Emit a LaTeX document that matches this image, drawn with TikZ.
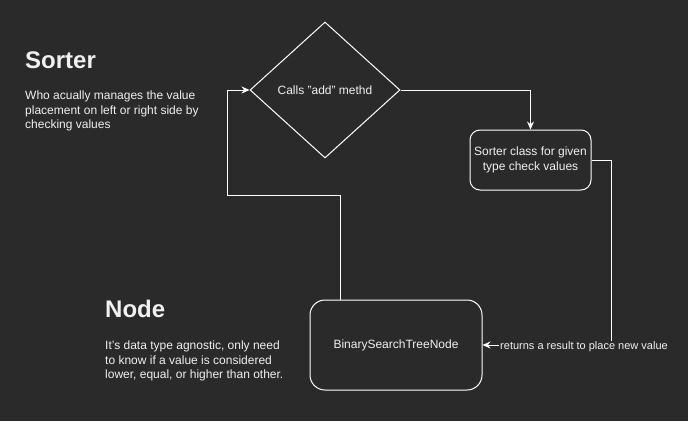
\documentclass[tikz,border=0pt]{standalone}
\usepackage{fontspec}
\setmainfont{Liberation Sans}
\usepackage{tikz}
\usetikzlibrary{arrows.meta,positioning,shapes.geometric}
\definecolor{mybg}{RGB}{42,42,42}
\definecolor{mytext}{RGB}{240,240,240}

\begin{document}
\begin{tikzpicture}[x=1pt, y=-1pt,
  box/.style={
    rectangle, draw=white, line width=1pt,
    rounded corners=10pt,
    font=\fontsize{12}{15}\selectfont, text=mytext, align=center},
  head/.style={anchor=west, inner sep=0pt, text=mytext,
    font=\fontsize{24}{29}\selectfont\bfseries},
  desc/.style={anchor=north west, inner sep=0pt, text=mytext, align=left,
    font=\fontsize{12}{14.5}\selectfont},
  arr/.style={-{Stealth[length=8pt,width=7pt]}, draw=white, line width=1pt}
]
  \fill[mybg] (0,0) rectangle (688,421);
  \useasboundingbox (0,0) rectangle (688,421);

  % left texts
  \node[head] (sorterhead) at (25,60) {Sorter};
  \node[desc] (sorterdesc) at (25,91) {Who acually manages the value\\placement on left or right side by\\checking values};
  \node[head] (nodehead) at (105,309) {Node};
  \node[desc] (nodedesc) at (105,341) {It's data type agnostic, only need\\to know if a value is considered\\lower, equal, or higher than other.};

  % flow
  \node[diamond, draw=white, line width=1pt, inner sep=0pt,
        minimum width=150pt, minimum height=136pt,
        font=\fontsize{12}{15}\selectfont, text=mytext] (calls) at (325,90) {Calls "add" methd};
  \node[box, minimum width=121pt, minimum height=60pt] (sortbox) at (530.5,160) {Sorter class for given\\type check values};
  \node[box, rounded corners=15pt, minimum width=172pt, minimum height=90pt] (bst) at (396,345) {BinarySearchTreeNode};
  \coordinate (bend) at (227,195);

  \draw[arr](calls.east) -| (sortbox.north);
  \draw[arr](sortbox.east) -- ++(20,0) |- (bst.east);
  \draw[arr]([xshift=-56pt]bst.north) |- (bend) |- (calls.west);
  \node[fill=mybg, inner sep=1pt, text=mytext,
        font=\fontsize{11}{14}\selectfont] (ret) at (584,347) {returns a result to place new value};
\end{tikzpicture}
\end{document}
